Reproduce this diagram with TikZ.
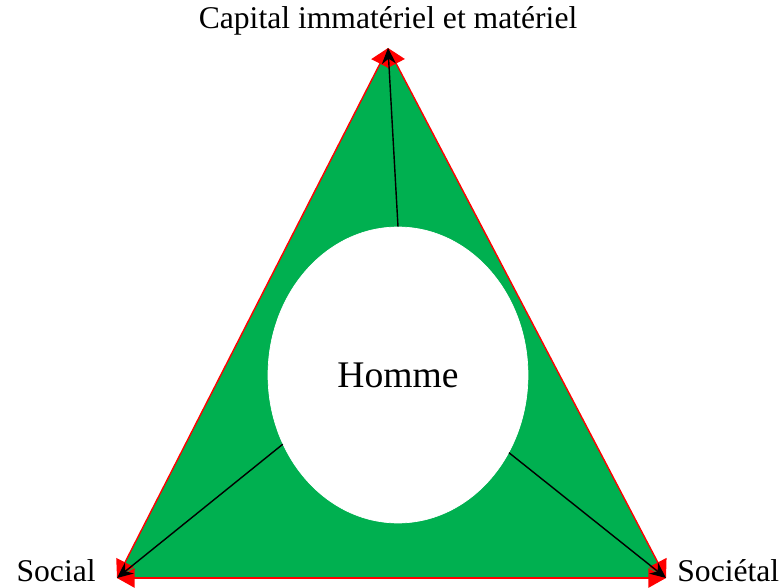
\documentclass[tikz,border=0pt]{standalone}
\usepackage{fontspec}
\setmainfont{Liberation Serif}
\usetikzlibrary{arrows.meta, shapes.geometric}
\definecolor{cgreen}{HTML}{00B050}
\definecolor{cred}{HTML}{FF0000}

\begin{document}
\begin{tikzpicture}[
  x=0.02cm, y=-0.02cm,
  side/.style={{Triangle[length=10pt, width=11pt]}-{Triangle[length=10pt, width=11pt]}, cred, line width=0.8pt},
  arr/.style={-{Stealth[length=9pt, width=8pt]}, black, line width=0.8pt},
  lbl/.style={font=\fontsize{18}{21}\selectfont}
]
  \useasboundingbox (0,0) rectangle (782,588);

  % Triangle corners
  \coordinate (top) at (388,48);
  \coordinate (left) at (117,578);
  \coordinate (right) at (666,578);

  % Green triangle
  \fill[cgreen] (top) -- (right) -- (left) -- cycle;

  % Red sides
  \draw[side] (top) -- (right);
  \draw[side] (right) -- (left);
  \draw[side] (left) -- (top);

  % Homme
  \node[ellipse, fill=white, draw=white, minimum width=5.2cm, minimum height=5.92cm, inner sep=0pt,
        font=\fontsize{21.4}{25}\selectfont] (homme) at (398,375) {Homme};

  % Arrows to the corners
  \draw[arr] (homme.north) -- (top);
  \draw[arr] (homme.211.8) -- (left);
  \draw[arr] (homme.325.7) -- (right);

  % Labels
  \node[lbl] (capital) at (388,21) {Capital immatériel et matériel};
  \node[lbl, anchor=east, inner sep=0pt] (social) at (96,571) {Social};
  \node[lbl, anchor=west, inner sep=0pt] (societal) at (677,571) {Sociétal};

\end{tikzpicture}
\end{document}
